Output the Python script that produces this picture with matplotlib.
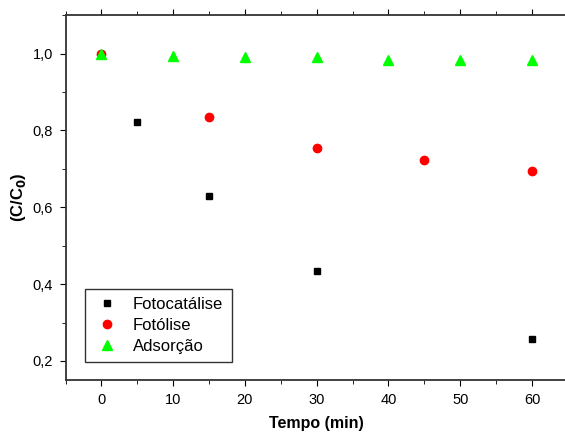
import matplotlib.pyplot as plt
from matplotlib.ticker import MultipleLocator

plt.rcParams['font.family'] = ['Liberation Sans', 'DejaVu Sans']

# Dados (C/C0 vs tempo)
t_fotocat = [0, 5, 15, 30, 60]
c_fotocat = [1.0, 0.821, 0.629, 0.435, 0.256]

t_fotolise = [0, 15, 30, 45, 60]
c_fotolise = [1.0, 0.834, 0.754, 0.723, 0.694]

t_adsorcao = [0, 10, 20, 30, 40, 50, 60]
c_adsorcao = [1.0, 0.994, 0.992, 0.990, 0.983, 0.982, 0.982]

fig = plt.figure(figsize=(5.65, 4.32), dpi=100)
ax = fig.add_axes([0.116, 0.12, 0.889, 0.845])

ax.plot(t_fotocat, c_fotocat, 's', color='black', markersize=5, label='Fotocatálise')
ax.plot(t_fotolise, c_fotolise, 'o', color='#ff0000', markersize=6, label='Fotólise')
ax.plot(t_adsorcao, c_adsorcao, '^', color='#00ff00', markersize=6.5, label='Adsorção')

ax.set_xlim(-5, 65)
ax.set_ylim(0.15, 1.1)
ax.xaxis.set_major_locator(MultipleLocator(10))
ax.xaxis.set_minor_locator(MultipleLocator(5))
ax.yaxis.set_major_locator(MultipleLocator(0.2))
ax.yaxis.set_minor_locator(MultipleLocator(0.1))
ax.yaxis.set_major_formatter(plt.FuncFormatter(lambda v, p: f"{v:.1f}".replace('.', ',')))

ax.tick_params(which='both', direction='out', top=True, right=True, labelsize=10.5, pad=5)
ax.tick_params(which='major', length=4)
ax.tick_params(which='minor', length=3)
for s in ax.spines.values():
    s.set_linewidth(1.3)
    s.set_color('#333333')

ax.set_xlabel('Tempo (min)', fontsize=11.5, fontweight='bold', labelpad=7)
ax.set_ylabel('(C/C$_\\mathbf{0}$)', fontsize=12, fontweight='bold', labelpad=3)

leg = ax.legend(loc='lower left', bbox_to_anchor=(0.038, 0.049), borderaxespad=0,
                fontsize=12, fancybox=False, edgecolor='black', handletextpad=0.7,
                labelspacing=0.35, borderpad=0.5, handlelength=1.7)
leg.get_frame().set_linewidth(1.0)

fig.savefig('out.png', dpi=100)
